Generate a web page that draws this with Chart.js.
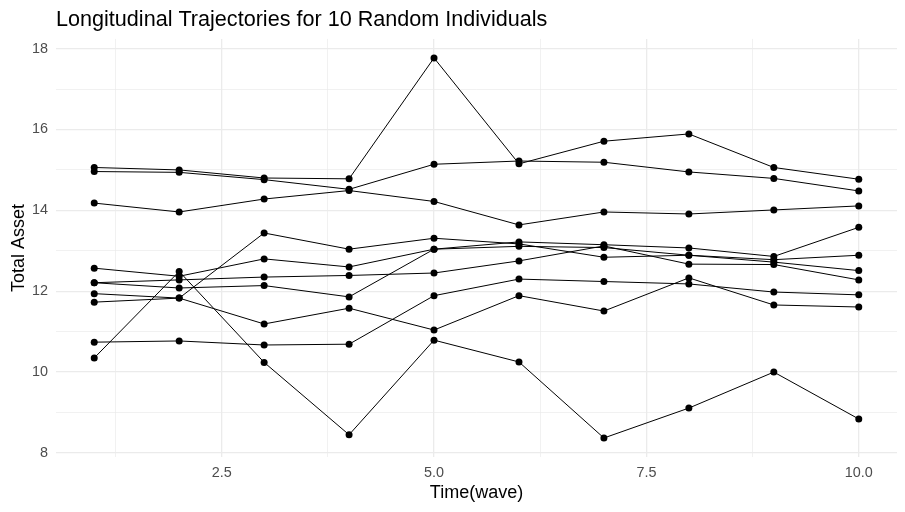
<!DOCTYPE html>
<html>
<head>
<meta charset="utf-8">
<script src="https://cdn.jsdelivr.net/npm/chart.js@4"></script>
<style>
  html, body { margin: 0; padding: 0; background: #fff; }
  #wrap { width: 905px; height: 512px; }
</style>
</head>
<body>
<div id="wrap"><canvas id="chart" width="905" height="512"></canvas></div>
<script>
// waves on the x axis
const waves = [1, 2, 3, 4, 5, 6, 7, 8, 9, 10];

// total asset per individual, one value per wave
const person1 = [15.06, 15.0, 14.8, 14.78, 17.77, 15.15, 15.71, 15.89, 15.06, 14.77];
const person2 = [14.96, 14.94, 14.76, 14.52, 15.14, 15.22, 15.19, 14.95, 14.79, 14.48];
const person3 = [14.18, 13.96, 14.28, 14.49, 14.22, 13.64, 13.96, 13.91, 14.01, 14.11];
const person4 = [11.73, 11.83, 13.44, 13.04, 13.31, 13.17, 12.84, 12.89, 12.78, 12.89];
const person5 = [12.57, 12.37, 12.8, 12.6, 13.04, 13.22, 13.15, 13.07, 12.86, 13.58];
const person6 = [12.21, 12.28, 12.35, 12.39, 12.45, 12.75, 13.12, 12.67, 12.66, 12.28];
const person7 = [12.21, 12.08, 12.14, 11.86, 13.04, 13.11, 13.08, 12.89, 12.72, 12.51];
const person8 = [11.94, 11.83, 11.19, 11.58, 11.04, 11.89, 11.51, 12.33, 11.66, 11.61];
const person9 = [10.74, 10.77, 10.67, 10.69, 11.89, 12.3, 12.24, 12.18, 11.98, 11.91];
const person10 = [10.35, 12.49, 10.24, 8.45, 10.79, 10.25, 8.37, 9.11, 10.0, 8.84];

const individuals = [person1, person2, person3, person4, person5,
  person6, person7, person8, person9, person10];

// grid lines and tick labels
const xGrid = [1.25, 2.5, 3.75, 5, 6.25, 7.5, 8.75, 10];
const xLabels = [2.5, 5, 7.5, 10];
const yGrid = [8, 9, 10, 11, 12, 13, 14, 15, 16, 17, 18];
const yLabels = [8, 10, 12, 14, 16, 18];

const font = "'Liberation Sans', Arial, sans-serif";

const datasets = individuals.map((vals) => ({
  data: vals.map((v, i) => ({ x: waves[i], y: v })),
  borderColor: "#000",
  borderWidth: 1,
  backgroundColor: "#000",
  pointRadius: 3.5,
  pointBorderWidth: 0,
  pointHoverRadius: 3.5,
  tension: 0,
}));

// major lines a bit wider than minor ones
const gridWidth = (labels) => (ctx) =>
  ctx.tick && labels.includes(ctx.tick.value) ? 1.3 : 0.7;

new Chart(document.querySelector("#chart"), {
  type: "line",
  data: { datasets: datasets },
  options: {
    responsive: false,
    animation: false,
    layout: { padding: { left: 0, right: 8, top: 0, bottom: 0 } },
    plugins: {
      legend: { display: false },
      tooltip: { enabled: false },
      title: {
        display: true,
        text: "Longitudinal Trajectories for 10 Random Individuals",
        align: "start",
        fullSize: false,
        color: "#000",
        font: { family: font, size: 21.6, weight: "normal" },
        padding: { top: 7, bottom: 6 },
      },
    },
    scales: {
      x: {
        type: "linear",
        min: 0.55,
        max: 10.45,
        afterBuildTicks: (scale) => {
          scale.ticks = xGrid.map((v) => ({ value: v }));
        },
        afterFit: (scale) => {
          scale.height = 55;
        },
        border: { display: false },
        grid: {
          drawTicks: false,
          color: "#EBEBEB",
          lineWidth: gridWidth(xLabels),
        },
        ticks: {
          autoSkip: false,
          maxRotation: 0,
          padding: 7,
          color: "#4D4D4D",
          font: { family: font, size: 14.4 },
          callback: (v) => (xLabels.includes(v) ? v.toFixed(1) : ""),
        },
        title: {
          display: true,
          text: "Time(wave)",
          color: "#000",
          font: { family: font, size: 18 },
          padding: { top: 0, bottom: 8 },
        },
      },
      y: {
        type: "linear",
        min: 7.9,
        max: 18.24,
        afterBuildTicks: (scale) => {
          scale.ticks = yGrid.map((v) => ({ value: v }));
        },
        afterFit: (scale) => {
          scale.width = 56;
        },
        border: { display: false },
        grid: {
          drawTicks: false,
          color: "#EBEBEB",
          lineWidth: gridWidth(yLabels),
        },
        ticks: {
          autoSkip: false,
          padding: 8,
          color: "#4D4D4D",
          font: { family: font, size: 14.4 },
          callback: (v) => (yLabels.includes(v) ? String(v) : ""),
        },
        title: {
          display: true,
          text: "Total Asset",
          color: "#000",
          font: { family: font, size: 18 },
          padding: { top: 8, bottom: 0 },
        },
      },
    },
  },
});
</script>
</body>
</html>
